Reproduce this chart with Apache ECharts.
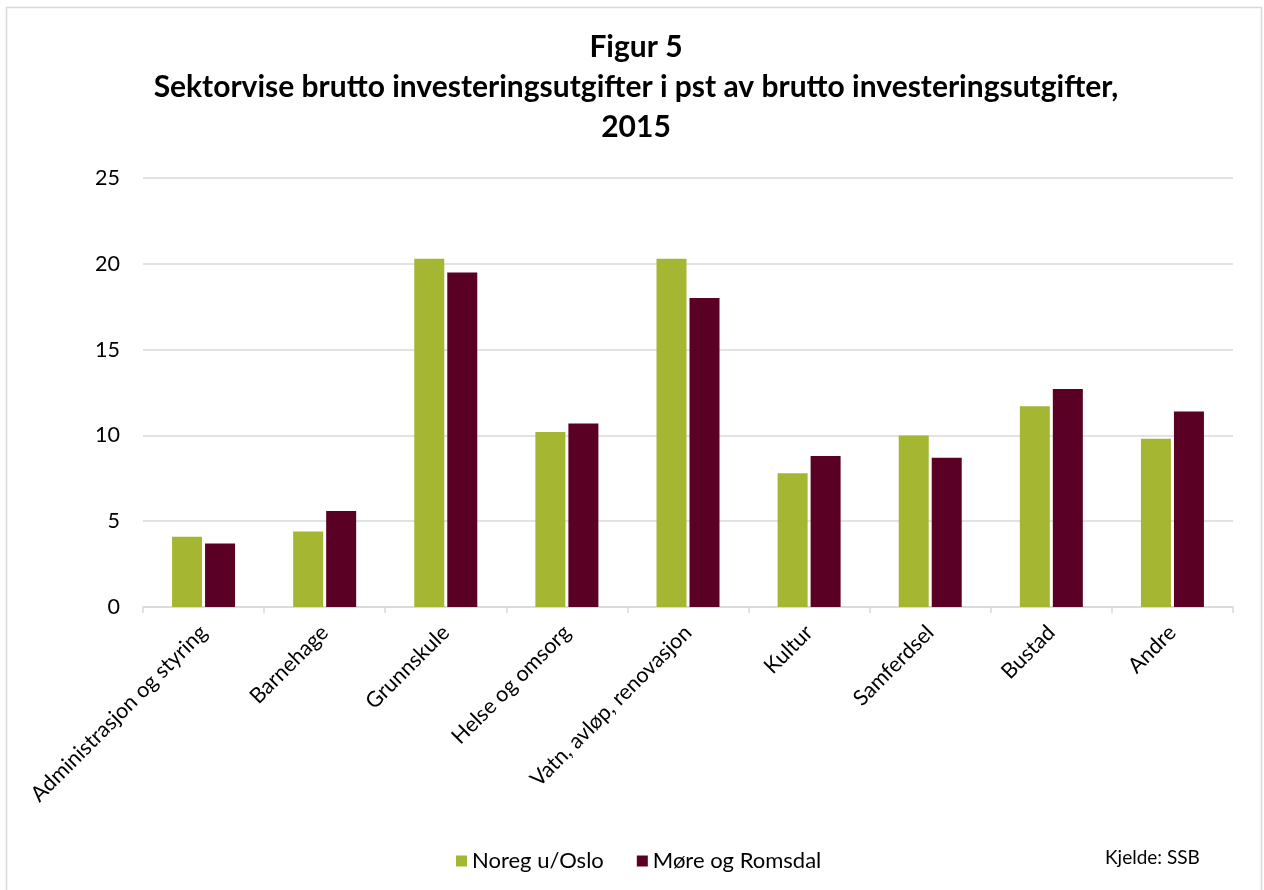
<!DOCTYPE html>
<html>
<head>
<meta charset="utf-8">
<script src="https://cdn.jsdelivr.net/npm/echarts@6/dist/echarts.min.js"></script>
<style>
  html, body { margin: 0; padding: 0; background: #ffffff; }
  #chart { width: 1264px; height: 890px; }
</style>
</head>
<body>
<div id="chart"></div>
<script>
  const categories = ['Administrasjon og styring', 'Barnehage', 'Grunnskule', 'Helse og omsorg',
    'Vatn, avløp, renovasjon', 'Kultur', 'Samferdsel', 'Bustad', 'Andre'];
  const noregUOslo = [4.1, 4.4, 20.3, 10.2, 20.3, 7.8, 10.0, 11.7, 9.8];
  const moreOgRomsdal = [3.7, 5.6, 19.5, 10.7, 18.0, 8.8, 8.7, 12.7, 11.4];
  const seriesNames = ['Noreg u/Oslo', 'Møre og Romsdal'];
  const titleLines = ['Figur 5', 'Sektorvise brutto investeringsutgifter i pst av brutto investeringsutgifter,', '2015'];

  const font = 'Lato, "Open Sans", sans-serif';
  const myChart = echarts.init(document.getElementById('chart'));

  myChart.setOption({
    animation: false,
    title: {
      text: titleLines.join('\n'),
      left: 631,
      textAlign: 'center',
      top: 22,
      textStyle: {
        fontFamily: font,
        fontSize: 30,
        fontWeight: 'bold',
        color: '#000000',
        lineHeight: 40
      }
    },
    graphic: [
      {
        type: 'rect',
        shape: { x: 6.5, y: 7.5, width: 1255, height: 900 },
        style: { fill: 'none', stroke: '#d9d9d9', lineWidth: 1.5 },
        silent: true
      },
      {
        type: 'text',
        left: 1105,
        top: 848,
        style: { text: 'Kjelde: SSB', font: '19px ' + font, fill: '#000000' }
      }
    ],
    legend: {
      data: seriesNames,
      left: 451,
      top: 845,
      itemWidth: 11,
      itemHeight: 11,
      itemGap: 33,
      icon: 'rect',
      textStyle: { fontFamily: font, fontSize: 22, color: '#000000' }
    },
    grid: {
      left: 143,
      right: 31,
      top: 178,
      bottom: 283
    },
    xAxis: {
      type: 'category',
      data: categories,
      axisLine: { lineStyle: { color: '#d9d9d9', width: 1.5 } },
      axisTick: { show: true, length: 6, lineStyle: { color: '#d9d9d9', width: 1.5 } },
      axisLabel: {
        interval: 0,
        rotate: 45,
        margin: 22,
        fontFamily: font,
        fontSize: 21.5,
        color: '#000000'
      }
    },
    yAxis: {
      type: 'value',
      min: 0,
      max: 25,
      interval: 5,
      axisLine: { show: false },
      axisTick: { show: false },
      splitLine: { lineStyle: { color: '#d9d9d9', width: 1.5 } },
      axisLabel: {
        margin: 23,
        fontFamily: font,
        fontSize: 21.5,
        color: '#000000'
      }
    },
    series: [
      {
        name: seriesNames[0],
        type: 'bar',
        data: noregUOslo,
        barWidth: 30,
        barGap: '10%',
        itemStyle: { color: '#a4b632' }
      },
      {
        name: seriesNames[1],
        type: 'bar',
        data: moreOgRomsdal,
        barWidth: 30,
        barGap: '10%',
        itemStyle: { color: '#590024' }
      }
    ]
  });
</script>
</body>
</html>
